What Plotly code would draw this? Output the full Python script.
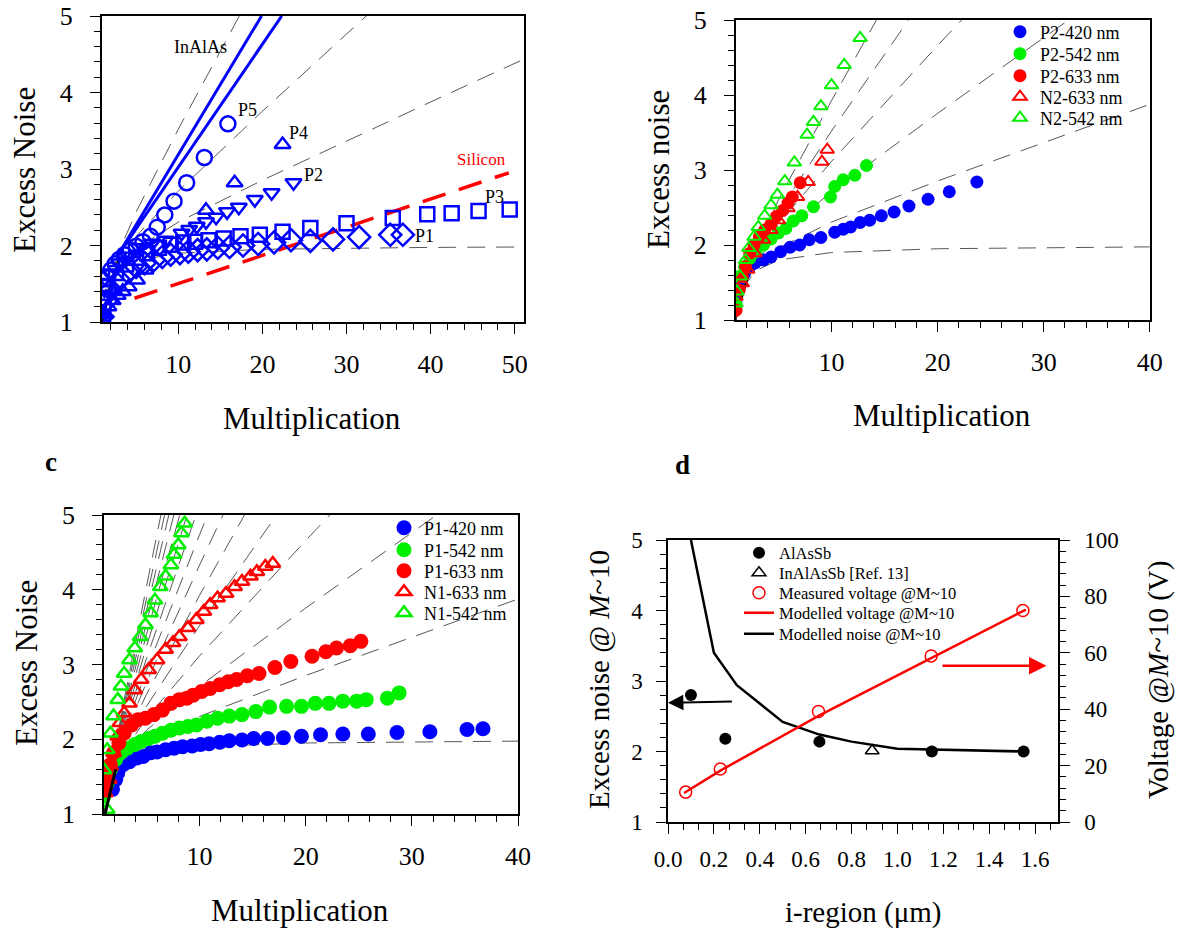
import plotly.graph_objects as go

W, H = 1177, 934
FONT = "Liberation Serif"
BLUE, GREEN, RED, BLACK = "#0000ff", "#00f000", "#ff0000", "#000000"

# ---------------- reference McIntyre curves -------------
REF_M = [1, 1.5, 2, 3, 5, 10, 20, 30, 40, 52]
REF_K000 = [1.0, 1.333, 1.5, 1.667, 1.8, 1.9, 1.95, 1.967, 1.975, 1.981]
REF_K005 = [1.0, 1.342, 1.525, 1.733, 1.96, 2.305, 2.853, 3.368, 3.876, 4.482]
REF_K010 = [1.0, 1.35, 1.55, 1.8, 2.12, 2.71, 3.755, 4.77, 5.778, 6.983]
REF_K015 = [1.0, 1.358, 1.575, 1.867, 2.28, 3.115, 4.658, 6.172, 7.679, 9.484]
REF_K020 = [1.0, 1.367, 1.6, 1.933, 2.44, 3.52, 5.56, 7.573, 9.58, 11.985]
REF_K025 = [1.0, 1.375, 1.625, 2.0, 2.6, 3.925, 6.463]
REF_K030 = [1.0, 1.383, 1.65, 2.067, 2.76, 4.33, 7.365]
REF_K035 = [1.0, 1.392, 1.675, 2.133, 2.92, 4.735, 8.27]
REF_K040 = [1.0, 1.4, 1.7, 2.2, 3.08, 5.14]
REF_K045 = [1.0, 1.408, 1.725, 2.267, 3.24, 5.545]
REF_K050 = [1.0, 1.417, 1.75, 2.333, 3.4, 5.95]
REF_K055 = [1.0, 1.425, 1.775, 2.4, 3.56, 6.355]
REF_K060 = [1.0, 1.433, 1.8, 2.467, 3.72, 6.76]
REF_K065 = [1.0, 1.442, 1.825, 2.533, 3.88, 7.165]
REF_K070 = [1.0, 1.45, 1.85, 2.6, 4.04, 7.57]

# ---------------- panel a ----------------
A_P1_M = [1.0, 1.4, 2.0, 3.0, 4.0, 5.0, 6.0, 7.1, 8.1, 9.1, 10.2, 11.2, 12.3, 13.4, 14.7, 16.1, 17.7, 19.5, 21.4, 23.4, 25.7, 28.4, 31.5, 35.2, 36.7]
A_P1_F = [1.07, 1.27, 1.42, 1.55, 1.65, 1.72, 1.77, 1.81, 1.85, 1.88, 1.90, 1.92, 1.94, 1.95, 1.97, 1.98, 2.00, 2.02, 2.04, 2.07, 2.06, 2.08, 2.11, 2.14, 2.14]
A_P2_M = [1.0, 1.2, 2.0, 3.0, 4.0, 5.3, 6.9, 8.5, 10.4, 11.3, 12.2, 13.3, 14.5, 15.8, 17.2, 19.1, 21.1, 23.7]
A_P2_F = [1.07, 1.42, 1.64, 1.77, 1.86, 1.97, 2.03, 2.07, 2.16, 2.21, 2.25, 2.31, 2.37, 2.44, 2.50, 2.60, 2.69, 2.82]
A_P3_M = [1.0, 1.1, 1.6, 2.6, 3.8, 5.0, 6.3, 7.7, 9.1, 10.6, 12.0, 13.6, 15.4, 17.4, 19.7, 22.4, 25.7, 30.0, 35.5, 39.6, 42.5, 45.7, 49.4]
A_P3_F = [1.03, 1.2, 1.47, 1.64, 1.75, 1.84, 1.90, 1.97, 2.01, 2.04, 2.05, 2.07, 2.09, 2.12, 2.14, 2.18, 2.23, 2.29, 2.36, 2.41, 2.42, 2.45, 2.47]
A_P4_M = [1.0, 1.3, 1.7, 2.2, 2.8, 3.4, 4.1, 5.1, 6.1, 13.3, 16.7, 22.4]
A_P4_F = [1.0, 1.1, 1.2, 1.28, 1.35, 1.40, 1.46, 1.55, 1.68, 2.46, 2.82, 3.32]
A_P5_M = [1.0, 1.0, 1.3, 1.6, 2.0, 2.5, 3.0, 3.6, 4.3, 5.0, 5.8, 6.7, 7.5, 8.4, 9.5, 11.0, 13.1, 15.9]
A_P5_F = [1.0, 1.31, 1.45, 1.58, 1.68, 1.76, 1.82, 1.88, 1.94, 1.99, 2.05, 2.12, 2.24, 2.40, 2.58, 2.82, 3.15, 3.59]
A_SI_M = [4.8, 49.3]
A_SI_F = [1.31, 2.95]
A_IN1_M = [2.7, 19.9]
A_IN1_F = [1.85, 5.0]
A_IN2_M = [2.7, 22.3]
A_IN2_F = [1.85, 5.0]
A_BLK_M = [1.0, 3.0]
A_BLK_F = [1.0, 1.9]

# ---------------- panel b ----------------
B_420_M = [1.0, 1.2, 1.8, 2.3, 2.8, 3.6, 4.3, 5.2, 6.1, 7.0, 7.9, 9.0, 10.3, 11.1, 11.8, 12.7, 13.6, 14.7, 15.9, 17.3, 19.1, 21.1, 23.7]
B_420_F = [1.27, 1.44, 1.62, 1.71, 1.76, 1.80, 1.84, 1.91, 1.97, 2.00, 2.07, 2.10, 2.17, 2.21, 2.24, 2.30, 2.33, 2.39, 2.44, 2.52, 2.61, 2.71, 2.84]
B_542_M = [1.0, 1.04, 1.3, 1.8, 2.3, 2.9, 3.6, 4.3, 5.0, 5.7, 6.4, 7.2, 8.3, 9.9, 10.3, 11.1, 12.2, 13.3]
B_542_F = [1.22, 1.40, 1.58, 1.71, 1.82, 1.91, 2.00, 2.08, 2.16, 2.22, 2.32, 2.39, 2.51, 2.64, 2.78, 2.87, 2.93, 3.06]
B_633_M = [1.0, 1.3, 1.6, 1.9, 2.3, 2.7, 3.2, 3.7, 4.3, 4.8, 5.4, 5.9, 6.3, 7.05]
B_633_F = [1.13, 1.40, 1.58, 1.71, 1.89, 2.00, 2.11, 2.20, 2.28, 2.38, 2.46, 2.56, 2.64, 2.83]
B_N633_M = [1.0, 1.6, 2.1, 2.8, 3.6, 4.3, 5.0, 5.9, 6.8, 7.8, 9.1, 9.6]
B_N633_F = [1.31, 1.49, 1.67, 1.89, 2.07, 2.20, 2.33, 2.49, 2.64, 2.84, 3.11, 3.27]
B_N542_M = [1.0, 1.1, 1.4, 1.9, 2.2, 2.7, 3.1, 3.7, 4.3, 4.9, 5.6, 6.5, 7.7, 8.3, 9.0, 10.0, 11.2, 12.7]
B_N542_F = [1.22, 1.38, 1.58, 1.80, 1.96, 2.11, 2.24, 2.39, 2.53, 2.67, 2.85, 3.10, 3.47, 3.64, 3.85, 4.13, 4.40, 4.76]
B_BLK_M = [1.0, 2.2]
B_BLK_F = [1.05, 1.6]

# ---------------- panel c ----------------
C_420_M = [1.8, 2.1, 2.3, 2.8, 3.4, 4.1, 4.7, 5.4, 6.0, 6.8, 7.6, 8.4, 9.3, 10.1, 10.9, 11.9, 12.8, 14.0, 15.1, 16.4, 17.9, 19.6, 21.4, 23.5, 25.9, 28.6, 31.7, 35.2, 36.7]
C_420_F = [1.33, 1.46, 1.55, 1.66, 1.70, 1.75, 1.77, 1.82, 1.83, 1.86, 1.88, 1.90, 1.91, 1.93, 1.94, 1.96, 1.98, 1.99, 2.01, 2.01, 2.02, 2.04, 2.06, 2.07, 2.07, 2.09, 2.10, 2.13, 2.14]
C_542_M = [1.0, 1.3, 1.6, 2.1, 2.6, 3.2, 3.9, 4.5, 5.2, 5.8, 6.5, 7.3, 8.1, 8.9, 9.7, 10.7, 11.7, 12.8, 14.0, 15.3, 16.6, 18.2, 19.6, 20.9, 22.2, 23.5, 24.8, 25.7, 27.7, 28.8]
C_542_F = [1.24, 1.41, 1.59, 1.73, 1.82, 1.88, 1.93, 1.97, 2.01, 2.04, 2.08, 2.12, 2.15, 2.17, 2.19, 2.24, 2.28, 2.31, 2.33, 2.37, 2.43, 2.44, 2.44, 2.48, 2.48, 2.51, 2.51, 2.53, 2.55, 2.62]
C_633_M = [1.1, 1.3, 1.6, 1.9, 2.4, 2.9, 3.6, 4.2, 4.9, 5.7, 6.5, 7.3, 8.1, 8.8, 9.4, 10.2, 11.0, 11.9, 12.7, 13.5, 14.5, 15.6, 17.1, 18.6, 20.6, 21.9, 22.9, 24.2, 25.2]
C_633_F = [1.33, 1.50, 1.66, 1.82, 1.95, 2.08, 2.19, 2.26, 2.28, 2.33, 2.39, 2.48, 2.53, 2.55, 2.59, 2.64, 2.68, 2.73, 2.77, 2.80, 2.85, 2.88, 2.96, 3.04, 3.11, 3.17, 3.22, 3.25, 3.31]
C_N633_M = [1.1, 1.5, 1.6, 1.9, 2.3, 2.5, 2.9, 3.4, 3.9, 4.5, 5.2, 6.0, 6.8, 7.5, 8.1, 8.9, 9.7, 10.4, 11.0, 11.7, 12.5, 13.3, 14.0, 14.8, 15.4, 16.2, 16.9]
C_N633_F = [1.28, 1.46, 1.64, 1.82, 2.04, 2.22, 2.35, 2.48, 2.66, 2.80, 2.93, 3.06, 3.20, 3.29, 3.37, 3.49, 3.60, 3.71, 3.80, 3.89, 3.95, 4.04, 4.11, 4.18, 4.24, 4.31, 4.35]
C_N542_M = [1.3, 1.0, 1.3, 1.6, 1.9, 2.3, 2.6, 2.9, 3.4, 3.9, 4.4, 4.9, 5.4, 5.8, 6.3, 6.8, 7.3, 7.6, 8.0, 8.3, 8.6]
C_N542_F = [1.06, 1.59, 1.86, 2.08, 2.31, 2.53, 2.71, 2.88, 3.06, 3.22, 3.37, 3.53, 3.69, 3.86, 4.04, 4.18, 4.33, 4.47, 4.60, 4.76, 4.89]
C_BLK_M = [1.1, 2.1]
C_BLK_F = [1.0, 1.6]

# ---------------- panel d ----------------
D_ALASSB_X = [0.10, 0.25, 0.66, 1.15, 1.55]
D_ALASSB_Y = [2.80, 2.18, 2.14, 2.00, 2.00]
D_INALASSB_X = [0.89]
D_INALASSB_Y = [2.01]
D_MEASV_X = [0.077, 0.228, 0.656, 1.147, 1.547]
D_MEASV_Y = [10.6, 18.8, 39.2, 58.9, 75.0]
D_MODV_X = [0.07, 0.23, 0.66, 1.15, 1.56]
D_MODV_Y = [10.3, 18.3, 37.8, 58.3, 75.3]
D_MODN_X = [0.10, 0.20, 0.30, 0.50, 0.66, 0.80, 1.00, 1.15, 1.55]
D_MODN_Y = [5.0, 3.40, 2.94, 2.42, 2.24, 2.14, 2.04, 2.03, 2.00]

fig = go.Figure()


def fx(x):
    return x / W


def fy(y):
    return 1 - y / H


# one legend box per entry so rows can be spaced exactly as in the original
LEGENDS = {}


def new_legend(text_x, row_y, size):
    key = "legend" if not LEGENDS else "legend%d" % (len(LEGENDS) + 1)
    LEGENDS[key] = dict(x=fx(text_x - 40), y=fy(row_y), xanchor="left", yanchor="middle",
                        font=dict(family=FONT, size=size, color="black"),
                        bgcolor="rgba(0,0,0,0)", borderwidth=0)
    return key


def ref(xa, ya, Fvals, m_list=REF_M):
    fig.add_trace(go.Scatter(x=m_list[:len(Fvals)], y=Fvals, mode="lines", xaxis=xa, yaxis=ya,
                             line=dict(color="#444444", width=0.9, dash="18px,11px"),
                             showlegend=False, hoverinfo="skip"))


def pts(xa, ya, xs, ys, symbol, size, color, lw=2.5, name=None, legend=None):
    fig.add_trace(go.Scatter(x=xs, y=ys, mode="markers", xaxis=xa, yaxis=ya, name=name,
                             showlegend=name is not None, legend=legend,
                             marker=dict(symbol=symbol, size=size, color=color,
                                         line=dict(width=lw, color=color))))


def line(xa, ya, xs, ys, color, width, dash="solid", name=None, legend=None):
    fig.add_trace(go.Scatter(x=xs, y=ys, mode="lines", xaxis=xa, yaxis=ya, name=name,
                             showlegend=name is not None, legend=legend,
                             line=dict(color=color, width=width, dash=dash)))


# panel a
for F in [REF_K000, REF_K005, REF_K010, REF_K020]:
    ref("x", "y", F)
line("x", "y", A_SI_M, A_SI_F, RED, 3.5, dash="24px,14px")
line("x", "y", A_BLK_M, A_BLK_F, BLACK, 1.5)
line("x", "y", A_IN1_M, A_IN1_F, BLUE, 3)
line("x", "y", A_IN2_M, A_IN2_F, BLUE, 3)
pts("x", "y", A_P1_M, A_P1_F, "diamond-open", 17, BLUE)
pts("x", "y", A_P3_M, A_P3_F, "square-open", 14, BLUE)
pts("x", "y", A_P2_M, A_P2_F, "triangle-down-open", 14, BLUE)
pts("x", "y", A_P4_M, A_P4_F, "triangle-up-open", 14, BLUE)
pts("x", "y", A_P5_M, A_P5_F, "circle-open", 15, BLUE)

# panel b
for F in [REF_K000, REF_K005, REF_K010, REF_K015, REF_K020, REF_K025]:
    ref("x2", "y2", F)
line("x2", "y2", B_BLK_M, B_BLK_F, BLACK, 2)
pts("x2", "y2", B_420_M, B_420_F, "circle", 13, BLUE, 0, "P2-420 nm", new_legend(1040, 32, 18))
pts("x2", "y2", B_542_M, B_542_F, "circle", 13, GREEN, 0, "P2-542 nm", new_legend(1040, 54, 18))
pts("x2", "y2", B_633_M, B_633_F, "circle", 13, RED, 0, "P2-633 nm", new_legend(1040, 76, 18))
pts("x2", "y2", B_N633_M, B_N633_F, "triangle-up-open", 12, RED, 2, "N2-633 nm", new_legend(1040, 97, 18))
pts("x2", "y2", B_N542_M, B_N542_F, "triangle-up-open", 12, GREEN, 2, "N2-542 nm", new_legend(1040, 118, 18))

# panel c
for F in [REF_K000, REF_K005, REF_K010, REF_K015, REF_K020, REF_K025, REF_K030, REF_K035,
          REF_K040, REF_K045, REF_K050, REF_K055, REF_K060, REF_K065, REF_K070]:
    ref("x3", "y3", F)
pts("x3", "y3", C_420_M, C_420_F, "circle", 15, BLUE, 0, "P1-420 nm", new_legend(424, 528, 18))
pts("x3", "y3", C_542_M, C_542_F, "circle", 15, GREEN, 0, "P1-542 nm", new_legend(424, 550, 18))
pts("x3", "y3", C_633_M, C_633_F, "circle", 15, RED, 0, "P1-633 nm", new_legend(424, 571, 18))
pts("x3", "y3", C_N633_M, C_N633_F, "triangle-up-open", 13, RED, 2.5, "N1-633 nm", new_legend(424, 592, 18))
pts("x3", "y3", C_N542_M, C_N542_F, "triangle-up-open", 13, GREEN, 2.5, "N1-542 nm", new_legend(424, 613, 18))
line("x3", "y3", C_BLK_M, C_BLK_F, BLACK, 3)

# panel d
pts("x4", "y4", D_ALASSB_X, D_ALASSB_Y, "circle", 12, BLACK, 0, "AlAsSb", new_legend(779, 553, 16.5))
pts("x4", "y4", D_INALASSB_X, D_INALASSB_Y, "triangle-up-open", 12, BLACK, 1.5,
    "InAlAsSb [Ref. 13]", new_legend(779, 573, 16.5))
pts("x4", "y5", D_MEASV_X, D_MEASV_Y, "circle-open", 12, RED, 1.5,
    "Measured voltage @M~10", new_legend(779, 593, 16.5))
line("x4", "y5", D_MODV_X, D_MODV_Y, RED, 2.5, name="Modelled voltage @M~10",
     legend=new_legend(779, 613, 16.5))
line("x4", "y4", D_MODN_X, D_MODN_Y, BLACK, 2.5, name="Modelled noise @M~10",
     legend=new_legend(779, 634, 16.5))


def dom_x(a, b):
    return [fx(a), fx(b)]


def dom_y(top, bottom):
    return [fy(bottom), fy(top)]


def axis(domain, rng, tickvals, minor_dtick, size, anchor, ticktext=None, side=None,
         mirror=True, overlaying=None, standoff=6):
    d = dict(domain=domain, range=rng, tickvals=tickvals, ticks="outside", ticklen=10,
             tickwidth=1.3, tickcolor="black", showline=True, linecolor="black",
             linewidth=1.5, mirror=mirror, showgrid=False, zeroline=False, anchor=anchor,
             automargin=False, ticklabelstandoff=standoff,
             tickfont=dict(family=FONT, size=size, color="black"),
             minor=dict(dtick=minor_dtick, tick0=0, ticks="outside", ticklen=6,
                        tickwidth=1.2, tickcolor="black", showgrid=False))
    if ticktext is not None:
        d["ticktext"] = ticktext
    if side is not None:
        d["side"] = side
    if overlaying is not None:
        d["overlaying"] = overlaying
        d.pop("domain")
    return d


Y_TICKS = [1, 2, 3, 4, 5]

fig.update_layout(
    template="none",
    width=W, height=H, margin=dict(l=0, r=0, t=0, b=0, pad=0, autoexpand=False),
    paper_bgcolor="white", plot_bgcolor="rgba(0,0,0,0)",
    font=dict(family=FONT, color="black"),
    xaxis=axis(dom_x(101.7, 524), [0.9, 51.1], [10, 20, 30, 40, 50], 2, 26, "y", standoff=8),
    yaxis=axis(dom_y(16, 322), [1, 5], Y_TICKS, 0.2, 26, "x", standoff=12),
    xaxis2=axis(dom_x(735.7, 1149.8), [0.97, 40], [10, 20, 30, 40], 2, 26, "y2", standoff=8),
    yaxis2=axis(dom_y(20, 320), [1, 5], Y_TICKS, 0.2, 26, "x2", standoff=12),
    xaxis3=axis(dom_x(104, 518), [1.0, 40], [10, 20, 30, 40], 2, 26, "y3", standoff=8),
    yaxis3=axis(dom_y(515, 814), [1, 5], Y_TICKS, 0.2, 26, "x3", standoff=12),
    xaxis4=axis(dom_x(668, 1058), [0, 1.7], [0, 0.2, 0.4, 0.6, 0.8, 1.0, 1.2, 1.4, 1.6],
                0.2 / 3, 23, "y4", standoff=6,
                ticktext=["0.0", "0.2", "0.4", "0.6", "0.8", "1.0", "1.2", "1.4", "1.6"]),
    yaxis4=axis(dom_y(540, 822), [1, 5], Y_TICKS, 0.2, 23, "x4", standoff=9),
    yaxis5=axis(None, [0, 100], [0, 20, 40, 60, 80, 100], 4, 23, "x4", side="right",
                mirror=False, overlaying="y4", standoff=10),
    **LEGENDS,
)


def ptext(x, y, text, size, angle=0, color="black", bold=False):
    fig.add_annotation(x=fx(x), y=fy(y), xref="paper", yref="paper", text=text,
                       showarrow=False, textangle=angle, xanchor="center", yanchor="middle",
                       font=dict(family=FONT, size=size, color=color,
                                 weight="bold" if bold else "normal"))


# axis titles and panel letters (page pixel positions)
ptext(312, 418, "Multiplication", 31)
ptext(24, 170, "Excess Noise", 31, angle=-90)
ptext(942, 415, "Multiplication", 31)
ptext(658, 170, "Excess noise", 31, angle=-90)
ptext(300, 910, "Multiplication", 31)
ptext(26, 663, "Excess Noise", 31, angle=-90)
ptext(51, 462, "c", 27, bold=True)
ptext(863, 912, "i-region (μm)", 29)
ptext(599, 680, "Excess noise @ <i>M</i>~10", 29, angle=-90)
ptext(1158, 680, "Voltage @<i>M</i>~10 (V)", 29, angle=-90)
ptext(682, 465, "d", 27, bold=True)


def dtext(xa, ya, x, y, text, size, color="black"):
    fig.add_annotation(x=x, y=y, xref=xa, yref=ya, text=text, showarrow=False,
                       xanchor="center", yanchor="middle",
                       font=dict(family=FONT, size=size, color=color))


dtext("x", "y", 12.6, 4.60, "InAlAs", 18)
dtext("x", "y", 18.2, 3.77, "P5", 18)
dtext("x", "y", 24.3, 3.47, "P4", 18)
dtext("x", "y", 26.1, 2.92, "P2", 18)
dtext("x", "y", 46.1, 3.12, "Silicon", 17, RED)
dtext("x", "y", 47.6, 2.64, "P3", 18)
dtext("x", "y", 39.3, 2.13, "P1", 18)

# arrows in panel d
fig.add_annotation(x=0.0, y=2.69, ax=0.285, ay=2.71, xref="x4", yref="y4", axref="x4",
                   ayref="y4", text="", showarrow=True, arrowhead=2, arrowsize=1.4,
                   arrowwidth=2.2, arrowcolor=BLACK)
fig.add_annotation(x=1.65, y=3.215, ax=1.19, ay=3.215, xref="x4", yref="y4", axref="x4",
                   ayref="y4", text="", showarrow=True, arrowhead=2, arrowsize=1.4,
                   arrowwidth=2.5, arrowcolor=RED)

# remove the browser's default page margin so the figure starts at the page corner
fig.write_html(
    "out.html",
    config={"displayModeBar": False},
    post_script="document.body.style.margin='0';document.body.style.padding='0';"
                "document.documentElement.style.overflow='hidden';",
)
